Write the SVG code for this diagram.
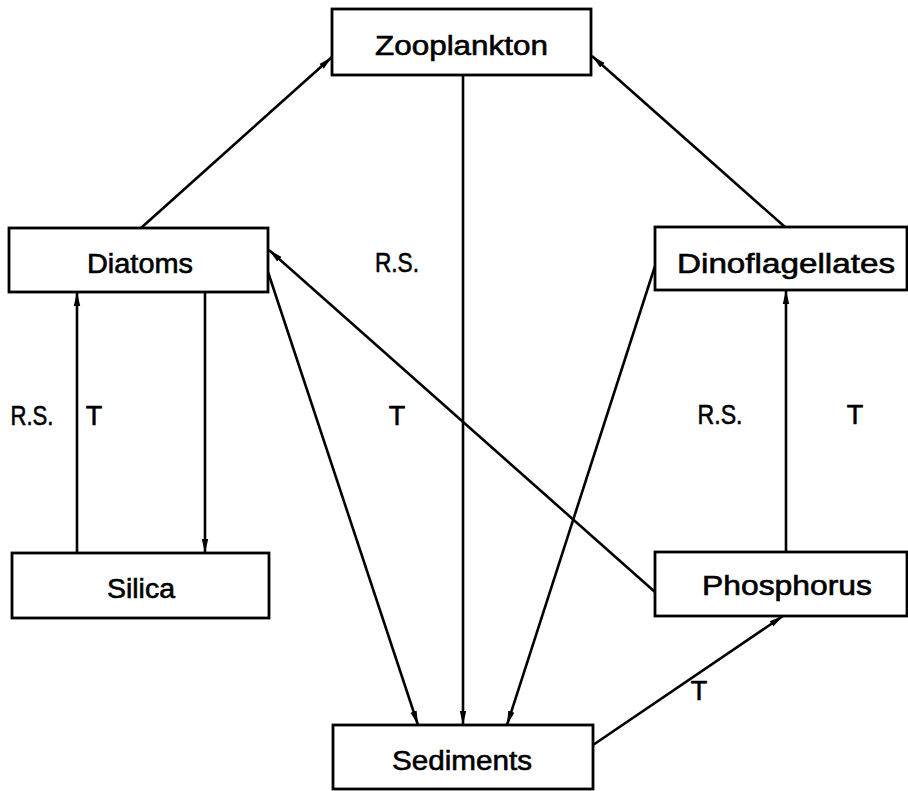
<svg xmlns="http://www.w3.org/2000/svg" width="908" height="791" viewBox="0 0 908 791">
<style>
.box{fill:#fff;stroke:#000;stroke-width:2.8}
.lbl{font-family:"Liberation Sans",Arial,sans-serif;font-size:27px;fill:#000;stroke:#000;stroke-width:0.6;text-anchor:middle}
.edge{stroke:#000;stroke-width:2.6;fill:none;marker-end:url(#ah)}
</style>
<defs>
<marker id="ah" viewBox="0 0 14 8" refX="14" refY="4" markerWidth="14" markerHeight="8" markerUnits="userSpaceOnUse" orient="auto">
<path d="M0,0.8 L14,4 L0,7.2 Z" fill="#000"/>
</marker>
</defs>
<rect width="908" height="791" fill="#fff"/>
<g id="connectors">
<line class="edge" x1="141" y1="228" x2="332" y2="57"/>
<line class="edge" x1="785" y1="227" x2="592" y2="56"/>
<line class="edge" x1="463" y1="75" x2="463" y2="725"/>
<line class="edge" x1="205" y1="292" x2="205" y2="553"/>
<line class="edge" x1="77" y1="553" x2="77" y2="292"/>
<line class="edge" x1="268" y1="272" x2="418" y2="725"/>
<line class="edge" x1="655" y1="592" x2="269" y2="250"/>
<line class="edge" x1="655" y1="266" x2="507" y2="725"/>
<line class="edge" x1="786" y1="552" x2="786" y2="290"/>
<line class="edge" x1="593" y1="745" x2="783" y2="616"/>
</g>
<g id="edge-labels">
<text class="lbl" x="397" y="272" textLength="44" lengthAdjust="spacingAndGlyphs">R.S.</text>
<text class="lbl" x="397" y="425">T</text>
<text class="lbl" x="32" y="425" textLength="43" lengthAdjust="spacingAndGlyphs">R.S.</text>
<text class="lbl" x="94" y="425">T</text>
<text class="lbl" x="720" y="424" textLength="45" lengthAdjust="spacingAndGlyphs">R.S.</text>
<text class="lbl" x="855" y="424">T</text>
<text class="lbl" x="699" y="700">T</text>
</g>
<g id="zooplankton">
<rect class="box" x="332" y="9" width="259" height="66"/>
<text class="lbl" x="461.5" y="55" textLength="173" lengthAdjust="spacingAndGlyphs">Zooplankton</text>
</g>
<g id="diatoms">
<rect class="box" x="9" y="228" width="259" height="64"/>
<text class="lbl" x="140" y="273" textLength="106" lengthAdjust="spacingAndGlyphs">Diatoms</text>
</g>
<g id="dinoflagellates">
<rect class="box" x="655" y="227" width="252" height="63"/>
<text class="lbl" x="786" y="273" textLength="218" lengthAdjust="spacingAndGlyphs">Dinoflagellates</text>
</g>
<g id="silica">
<rect class="box" x="12" y="553" width="257" height="65"/>
<text class="lbl" x="141" y="598" textLength="68" lengthAdjust="spacingAndGlyphs">Silica</text>
</g>
<g id="phosphorus">
<rect class="box" x="655" y="552" width="252" height="64"/>
<text class="lbl" x="787" y="595" textLength="170" lengthAdjust="spacingAndGlyphs">Phosphorus</text>
</g>
<g id="sediments">
<rect class="box" x="333" y="725" width="260" height="64"/>
<text class="lbl" x="462" y="770" textLength="140" lengthAdjust="spacingAndGlyphs">Sediments</text>
</g>
</svg>
